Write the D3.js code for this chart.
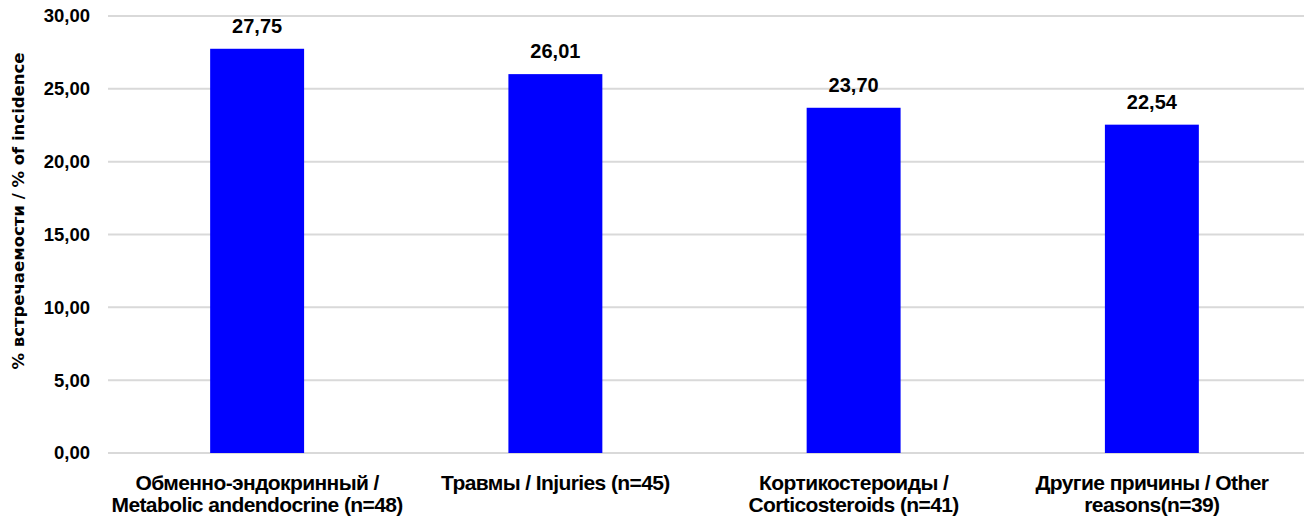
<!DOCTYPE html>
<html>
<head>
<meta charset="utf-8">
<script src="https://cdn.jsdelivr.net/npm/d3@7"></script>
<style>
  body { margin: 0; background: #fff; }
  svg text { font-family: "Liberation Sans", Arial, sans-serif; font-weight: bold; fill: #000; }
</style>
</head>
<body>
<div id="chart"></div>
<script>
// chart data
var categories = [
  ["Обменно-эндокринный /", "Metabolic andendocrine (n=48)"],
  ["Травмы / Injuries (n=45)"],
  ["Кортикостероиды /", "Corticosteroids (n=41)"],
  ["Другие причины / Other", "reasons(n=39)"]
];
var values = [27.75, 26.01, 23.70, 22.54];
var yTicks = [0, 5, 10, 15, 20, 25, 30];
var yTitle = "% встречаемости / % of incidence";

var W = 1304, H = 528;
var margin = {top: 16, right: 0, bottom: 75, left: 108};
var width = W - margin.left - margin.right;
var height = H - margin.top - margin.bottom;

var fmt = function(v) { return v.toFixed(2).replace(".", ","); };

var svg = d3.select("#chart").append("svg")
  .attr("width", W)
  .attr("height", H);

var g = svg.append("g")
  .attr("transform", "translate(" + margin.left + "," + margin.top + ")");

var x = d3.scaleBand()
  .domain(d3.range(categories.length))
  .range([0, 1193])
  .paddingInner(0.685)
  .paddingOuter(0.3425);

var y = d3.scaleLinear().domain([0, 30]).range([height, 0]);

// gridlines
g.selectAll(".grid")
  .data(yTicks)
  .enter().append("line")
  .attr("x1", 0)
  .attr("x2", width)
  .attr("y1", function(d) { return y(d); })
  .attr("y2", function(d) { return y(d); })
  .style("stroke", "#d9d9d9")
  .style("stroke-width", 2);

// y axis labels
g.selectAll(".ytick")
  .data(yTicks)
  .enter().append("text")
  .attr("x", -18)
  .attr("y", function(d) { return y(d); })
  .attr("dy", "0.35em")
  .style("text-anchor", "end")
  .style("font-size", "18.5px")
  .text(fmt);

// bars
g.selectAll(".bar")
  .data(values)
  .enter().append("rect")
  .attr("x", function(d, i) { return x(i); })
  .attr("width", x.bandwidth())
  .attr("y", function(d) { return y(d); })
  .attr("height", function(d) { return height - y(d); })
  .style("fill", "#0000ff");

// value labels
g.selectAll(".val")
  .data(values)
  .enter().append("text")
  .attr("x", function(d, i) { return x(i) + x.bandwidth() / 2; })
  .attr("y", function(d) { return y(d) - 16; })
  .style("text-anchor", "middle")
  .style("font-size", "20px")
  .text(fmt);

// category labels
var cat = g.selectAll(".cat")
  .data(categories)
  .enter().append("text")
  .attr("x", function(d, i) { return x(i) + x.bandwidth() / 2; })
  .attr("y", height + 37)
  .style("text-anchor", "middle")
  .style("font-size", "21px")
  .style("letter-spacing", "-0.6px");

cat.selectAll("tspan")
  .data(function(d) { return d; })
  .enter().append("tspan")
  .attr("x", function() { return d3.select(this.parentNode).attr("x"); })
  .attr("dy", function(d, i) { return i === 0 ? 0 : 22; })
  .text(function(d) { return d; });

// y axis title
svg.append("text")
  .attr("transform", "translate(24," + 211 + ") rotate(-90)")
  .style("text-anchor", "middle")
  .style("font-size", "16.5px")
  .style("font-family", "'DejaVu Sans', Verdana, sans-serif")
  .text(yTitle);
</script>
</body>
</html>
